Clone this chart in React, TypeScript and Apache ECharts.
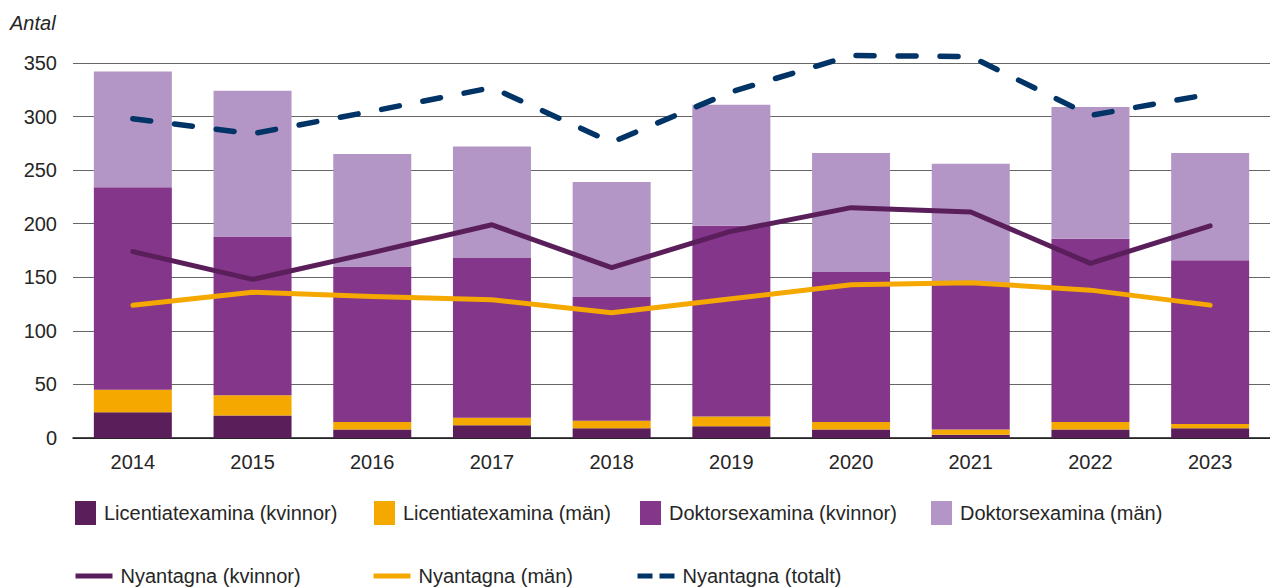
import React, { useEffect, useRef } from "react";
import * as echarts from "echarts";

const years = ["2014", "2015", "2016", "2017", "2018", "2019", "2020", "2021", "2022", "2023"];
const licKvinnor = [24, 21, 8, 12, 9, 11, 8, 3, 8, 9];
const licMan = [21, 19, 7, 7, 7, 9, 7, 5, 7, 4];
const doktKvinnor = [189, 148, 145, 149, 116, 178, 140, 137, 171, 153];
const doktMan = [108, 136, 105, 104, 107, 113, 111, 111, 123, 100];
const nyKvinnor = [174, 148, 173, 199, 159, 193, 215, 211, 163, 198];
const nyMan = [124, 136, 132, 129, 117, 130, 143, 145, 138, 124];
const nyTotalt = [298, 284, 305, 327, 276, 323, 357, 356, 301, 321];

const C_LK = "#5a1f5a";
const C_LM = "#f5a800";
const C_DK = "#84368a";
const C_DM = "#b396c6";
const C_TOT = "#003366";

const FONT = "'Liberation Sans', Arial, sans-serif";
const TXT = "#262626";

export default function App() {
  const ref = useRef<HTMLDivElement>(null);
  useEffect(() => {
    if (!ref.current) return;
    const chart = echarts.init(ref.current, undefined, { renderer: "svg" });
    const bar = (name: string, data: number[], color: string) => ({
      name,
      type: "bar",
      stack: "ex",
      data,
      barWidth: 78,
      itemStyle: { color },
      emphasis: { disabled: true },
    });
    const line = (name: string, data: number[], color: string, type: any, width: number) => ({
      name,
      type: "line",
      data,
      symbol: "none",
      clip: false,
      lineStyle: { color, width, type, cap: "round", join: "round" },
      itemStyle: { color },
      emphasis: { disabled: true },
      z: 5,
    });
    const legendItem = (name: string, left: number, top: number, kind: "bar" | "line" | "dash") => ({
      data: [name],
      left,
      top,
      itemWidth: kind === "bar" ? 21 : 37,
      itemHeight: kind === "bar" ? 24 : 5,
      itemGap: 0,
      textStyle: { fontFamily: FONT, fontSize: 20, color: TXT, padding: [0, 0, 0, kind === "bar" ? 3 : 3] },
      selectedMode: false,
      padding: 0,
      ...(kind === "bar"
        ? { icon: "rect" }
        : {
            lineStyle: { width: 5, cap: "butt", type: kind === "dash" ? [15, 7] : "solid" },
            itemStyle: { opacity: 0, borderWidth: 0 },
          }),
    });
    chart.setOption({
      animation: false,
      grid: { left: 73, right: -11, top: 63, bottom: 150, containLabel: false },
      graphic: [
        {
          type: "text",
          left: 10,
          top: 13,
          style: { text: "Antal", fontFamily: FONT, fontSize: 20, fontStyle: "italic", fill: TXT },
        },
      ],
      legend: [
        legendItem("Licentiatexamina (kvinnor)", 75, 501, "bar"),
        legendItem("Licentiatexamina (män)", 374, 501, "bar"),
        legendItem("Doktorsexamina (kvinnor)", 640, 501, "bar"),
        legendItem("Doktorsexamina (män)", 931, 501, "bar"),
        legendItem("Nyantagna (kvinnor)", 73, 566, "line"),
        legendItem("Nyantagna (män)", 371, 566, "line"),
        legendItem("Nyantagna (totalt)", 635, 566, "dash"),
      ],
      xAxis: {
        type: "category",
        data: years,
        axisTick: { show: false },
        axisLine: { lineStyle: { color: "#111", width: 1.5 } },
        axisLabel: { fontFamily: FONT, fontSize: 20, color: TXT, margin: 14 },
      },
      yAxis: {
        type: "value",
        min: 0,
        max: 350,
        interval: 50,
        axisLine: { show: false },
        axisTick: { show: false },
        splitLine: { lineStyle: { color: "#666", width: 1.2 } },
        axisLabel: { fontFamily: FONT, fontSize: 20, color: TXT, margin: 16 },
      },
      series: [
        bar("Licentiatexamina (kvinnor)", licKvinnor, C_LK),
        bar("Licentiatexamina (män)", licMan, C_LM),
        bar("Doktorsexamina (kvinnor)", doktKvinnor, C_DK),
        bar("Doktorsexamina (män)", doktMan, C_DM),
        line("Nyantagna (kvinnor)", nyKvinnor, C_LK, "solid", 5),
        line("Nyantagna (män)", nyMan, C_LM, "solid", 5),
        line("Nyantagna (totalt)", nyTotalt, C_TOT, [18, 24], 5.5),
      ],
    });
    return () => chart.dispose();
  }, []);
  return <div ref={ref} style={{ width: 1270, height: 588, position: "absolute", left: 0, top: 0 }} />;
}
